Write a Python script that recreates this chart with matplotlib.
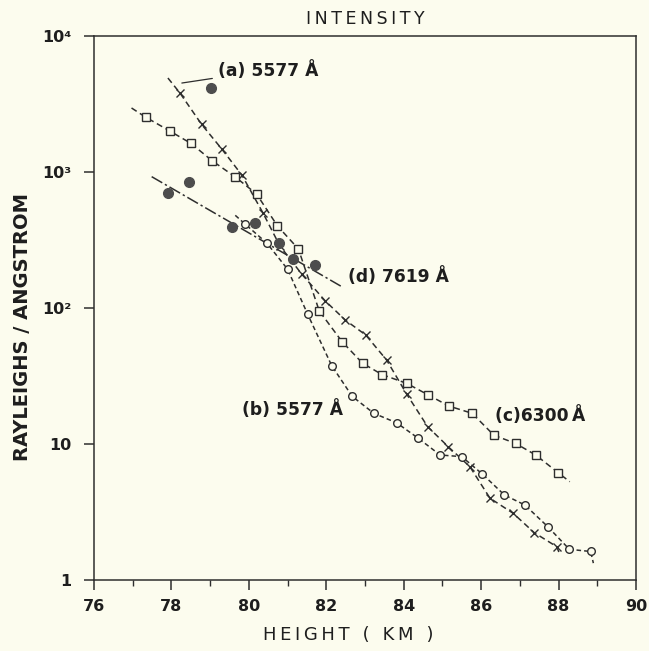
import numpy as np
import matplotlib
matplotlib.use("Agg")
from matplotlib import pyplot as plt
from matplotlib.ticker import FixedLocator, FixedFormatter, NullLocator

# (a) 5577 A - crosses
a_height = [78.22, 78.78, 79.30, 79.82, 80.37, 80.80, 81.37, 81.97, 82.49, 83.02,
            83.56, 84.08, 84.62, 85.15, 85.71, 86.23, 86.83, 87.37, 87.95]
a_int = [3810, 2240, 1477, 950, 497, 287, 177, 113, 81.6, 63.3,
         41.4, 23.2, 13.4, 9.55, 6.81, 3.99, 3.09, 2.23, 1.76]
a_line_ends = ([77.91, 88.04], [4910, 1.53])

# (b) 5577 A - circles
b_height = [79.90, 80.47, 81.00, 81.52, 82.14, 82.67, 83.23, 83.82, 84.38, 84.94,
            85.50, 86.03, 86.60, 87.13, 87.72, 88.28, 88.83]
b_int = [415, 299, 193, 89.9, 37.7, 22.4, 16.8, 14.3, 11.0, 8.30,
         8.07, 6.02, 4.22, 3.56, 2.47, 1.68, 1.62]
b_line_ends = ([79.65, 88.90], [480, 1.33])

# (c) 6300 A - squares
c_height = [77.34, 77.96, 78.50, 79.06, 79.64, 80.20, 80.74, 81.28, 81.82, 82.41,
            82.94, 83.44, 84.08, 84.64, 85.17, 85.77, 86.33, 86.89, 87.41, 87.99]
c_int = [2525, 2001, 1626, 1205, 924, 689, 401, 272, 95, 56.5,
         39.2, 32.4, 27.9, 22.9, 19.0, 16.8, 11.6, 10.1, 8.30, 6.15]
c_line_ends = ([76.97, 88.29], [2956, 5.28])

# (d) 7619 A - filled dots and fitted line
d_height = [77.92, 79.56, 80.16, 80.78, 81.15, 81.71]
d_int = [697, 396, 420, 299, 229, 207]
d_fit_height = [77.49, 82.40]
d_fit_int = [924, 143.5]

# lone filled points
extra_height = [79.02, 78.46]
extra_int = [4150, 849]

bg = "#fcfcee"
ink = "#2e2e2e"


def spaced(s):
    # old lettering is wide, pad letters with thin spaces
    return "\u2009".join(s)


fig = plt.figure(figsize=(6.49, 6.51), dpi=100, facecolor=bg)
ax = fig.add_axes([0.1448, 0.1091, 0.8351, 0.8356], facecolor=bg)


def series(h, v, ends, marker, dashes, ms):
    xs = [ends[0][0]] + h + [ends[0][1]]
    ys = [ends[1][0]] + v + [ends[1][1]]
    ax.plot(xs, ys, color=ink, lw=1.1, dashes=dashes, zorder=2)
    ax.plot(h, v, linestyle="none", marker=marker, ms=ms, mew=1.0,
            mec=ink, mfc=bg if marker != "x" else ink, zorder=3)


series(a_height, a_int, a_line_ends, "x", (4, 2.5), 6)
series(c_height, c_int, c_line_ends, "s", (4, 2.5), 5.5)
series(b_height, b_int, b_line_ends, "o", (3, 2), 5.5)

ax.plot(d_fit_height, d_fit_int, color=ink, lw=1.1, dashes=(8, 2, 1.5, 2), zorder=2)
ax.plot(d_height, d_int, linestyle="none", marker="o", ms=7, mfc="#4d4d4d",
        mec="#4d4d4d", zorder=3)
ax.plot(extra_height, extra_int, linestyle="none", marker="o", ms=7, mfc="#4d4d4d",
        mec="#4d4d4d", zorder=3)

ax.set_yscale("log")
ax.set_xlim(76, 90)
ax.set_ylim(1, 1e4)

lab = dict(fontsize=12.3, fontweight="bold", color="#1e1e1e", va="center")
ax.annotate("(a) 5577 Å", xy=(78.27, 4510), xytext=(79.2, 5620),
            arrowprops=dict(arrowstyle="-", color=ink, lw=0.9, shrinkA=2, shrinkB=0), **lab)
ax.text(82.56, 169, "(d) 7619 Å", **lab)
ax.text(79.82, 17.8, "(b) 5577 Å", **lab)
ax.text(86.36, 16.3, "(c)6300\u2009Å", **lab)

ax.xaxis.set_major_locator(FixedLocator([76, 78, 80, 82, 84, 86, 88, 90]))
ax.xaxis.set_minor_locator(FixedLocator([77, 79, 81, 83, 85, 87, 89]))
ax.yaxis.set_major_locator(FixedLocator([1, 10, 100, 1000, 10000]))
ax.yaxis.set_major_formatter(FixedFormatter(["1", "10", "10²", "10³", "10⁴"]))
ax.yaxis.set_minor_locator(NullLocator())
ax.tick_params(axis="both", which="major", direction="out", length=7, width=1.1,
               color=ink, labelsize=11.5, labelcolor="#1e1e1e")
ax.tick_params(axis="x", which="minor", direction="out", length=4, width=1.0, color=ink)
ax.tick_params(axis="x", pad=7)
ax.tick_params(axis="y", pad=9)
for t in ax.get_xticklabels() + ax.get_yticklabels():
    t.set_fontweight("bold")

for s in ax.spines.values():
    s.set_color(ink)
    s.set_linewidth(1.1)

ax.set_xlabel(spaced("HEIGHT ( KM )"), fontsize=13, color="#1e1e1e")
ax.xaxis.set_label_coords(0.47, -0.085)
ax.set_ylabel("RAYLEIGHS / ANGSTROM", fontsize=14, fontweight="bold", color="#1e1e1e")
ax.yaxis.set_label_coords(-0.114, 0.465)
ax.set_title(spaced("INTENSITY"), fontsize=12.5, color="#1e1e1e", pad=9)

fig.savefig("out.png", dpi=100, facecolor=bg)
